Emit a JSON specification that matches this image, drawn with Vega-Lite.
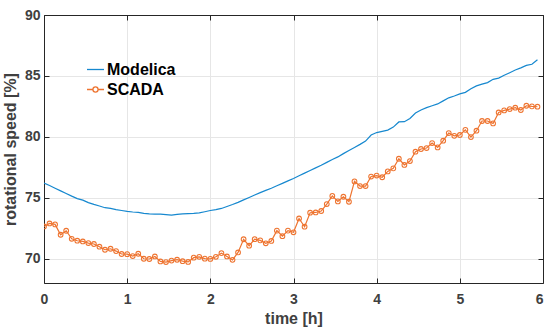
{
  "$schema": "https://vega.github.io/schema/vega-lite/v6.json",
  "width": 499,
  "height": 268,
  "autosize": {"type": "none"},
  "padding": {"left": 44, "top": 15, "right": 1, "bottom": 46},
  "background": "white",
  "config": {
    "view": {"stroke": null},
    "font": "Liberation Sans",
    "axis": {
      "labelFont": "Liberation Sans",
      "labelFontWeight": "bold",
      "labelFontSize": 14,
      "labelColor": "#404040",
      "labelFlush": false,
      "titleFont": "Liberation Sans",
      "titleFontWeight": "bold",
      "titleFontSize": 16,
      "titleColor": "#404040",
      "domainColor": "#262626",
      "domainWidth": 1,
      "tickColor": "#262626",
      "tickSize": -5,
      "gridColor": "#E6E6E6",
      "gridWidth": 1
    }
  },
  "data": {
    "values": [
      {"time": 0, "Modelica": 76.21, "SCADA": 72.64},
      {"time": 0.0667, "Modelica": 76.0, "SCADA": 72.89},
      {"time": 0.1333, "Modelica": 75.78, "SCADA": 72.81},
      {"time": 0.2, "Modelica": 75.56, "SCADA": 71.96},
      {"time": 0.2667, "Modelica": 75.35, "SCADA": 72.29},
      {"time": 0.3333, "Modelica": 75.13, "SCADA": 71.63},
      {"time": 0.4, "Modelica": 74.93, "SCADA": 71.47},
      {"time": 0.4667, "Modelica": 74.8, "SCADA": 71.41},
      {"time": 0.5333, "Modelica": 74.6, "SCADA": 71.28},
      {"time": 0.6, "Modelica": 74.45, "SCADA": 71.2},
      {"time": 0.6667, "Modelica": 74.32, "SCADA": 70.98},
      {"time": 0.7333, "Modelica": 74.18, "SCADA": 70.73},
      {"time": 0.8, "Modelica": 74.13, "SCADA": 70.81},
      {"time": 0.8667, "Modelica": 74.03, "SCADA": 70.62},
      {"time": 0.9333, "Modelica": 73.95, "SCADA": 70.38},
      {"time": 1, "Modelica": 73.88, "SCADA": 70.37},
      {"time": 1.0667, "Modelica": 73.83, "SCADA": 70.21},
      {"time": 1.1333, "Modelica": 73.8, "SCADA": 70.4},
      {"time": 1.2, "Modelica": 73.72, "SCADA": 69.99},
      {"time": 1.2667, "Modelica": 73.68, "SCADA": 69.97},
      {"time": 1.3333, "Modelica": 73.66, "SCADA": 70.18},
      {"time": 1.4, "Modelica": 73.65, "SCADA": 69.77},
      {"time": 1.4667, "Modelica": 73.62, "SCADA": 69.72},
      {"time": 1.5333, "Modelica": 73.58, "SCADA": 69.84},
      {"time": 1.6, "Modelica": 73.64, "SCADA": 69.91},
      {"time": 1.6667, "Modelica": 73.68, "SCADA": 69.79},
      {"time": 1.7333, "Modelica": 73.7, "SCADA": 69.73},
      {"time": 1.8, "Modelica": 73.72, "SCADA": 70.08},
      {"time": 1.8667, "Modelica": 73.76, "SCADA": 70.15},
      {"time": 1.9333, "Modelica": 73.85, "SCADA": 70.0},
      {"time": 2, "Modelica": 73.95, "SCADA": 69.98},
      {"time": 2.0667, "Modelica": 74.02, "SCADA": 70.15},
      {"time": 2.1333, "Modelica": 74.12, "SCADA": 70.45},
      {"time": 2.2, "Modelica": 74.28, "SCADA": 70.18},
      {"time": 2.2667, "Modelica": 74.44, "SCADA": 69.9},
      {"time": 2.3333, "Modelica": 74.62, "SCADA": 70.51},
      {"time": 2.4, "Modelica": 74.82, "SCADA": 71.59},
      {"time": 2.4667, "Modelica": 75.02, "SCADA": 71.06},
      {"time": 2.5333, "Modelica": 75.22, "SCADA": 71.6},
      {"time": 2.6, "Modelica": 75.42, "SCADA": 71.5},
      {"time": 2.6667, "Modelica": 75.6, "SCADA": 71.26},
      {"time": 2.7333, "Modelica": 75.78, "SCADA": 71.45},
      {"time": 2.8, "Modelica": 75.98, "SCADA": 72.3},
      {"time": 2.8667, "Modelica": 76.18, "SCADA": 71.84},
      {"time": 2.9333, "Modelica": 76.38, "SCADA": 72.3},
      {"time": 3, "Modelica": 76.58, "SCADA": 72.16},
      {"time": 3.0667, "Modelica": 76.8, "SCADA": 73.3},
      {"time": 3.1333, "Modelica": 77.02, "SCADA": 72.62},
      {"time": 3.2, "Modelica": 77.24, "SCADA": 73.77},
      {"time": 3.2667, "Modelica": 77.45, "SCADA": 73.79},
      {"time": 3.3333, "Modelica": 77.66, "SCADA": 73.91},
      {"time": 3.4, "Modelica": 77.9, "SCADA": 74.48},
      {"time": 3.4667, "Modelica": 78.14, "SCADA": 75.15},
      {"time": 3.5333, "Modelica": 78.35, "SCADA": 74.7},
      {"time": 3.6, "Modelica": 78.62, "SCADA": 75.08},
      {"time": 3.6667, "Modelica": 78.88, "SCADA": 74.67},
      {"time": 3.7333, "Modelica": 79.13, "SCADA": 76.34},
      {"time": 3.8, "Modelica": 79.38, "SCADA": 75.96},
      {"time": 3.8667, "Modelica": 79.65, "SCADA": 75.96},
      {"time": 3.9333, "Modelica": 80.15, "SCADA": 76.74},
      {"time": 4, "Modelica": 80.35, "SCADA": 76.82},
      {"time": 4.0667, "Modelica": 80.45, "SCADA": 76.68},
      {"time": 4.1333, "Modelica": 80.55, "SCADA": 77.16},
      {"time": 4.2, "Modelica": 80.8, "SCADA": 77.41},
      {"time": 4.2667, "Modelica": 81.22, "SCADA": 78.2},
      {"time": 4.3333, "Modelica": 81.24, "SCADA": 77.69},
      {"time": 4.4, "Modelica": 81.5, "SCADA": 78.01},
      {"time": 4.4667, "Modelica": 81.95, "SCADA": 78.78},
      {"time": 4.5333, "Modelica": 82.2, "SCADA": 79.0},
      {"time": 4.6, "Modelica": 82.4, "SCADA": 79.08},
      {"time": 4.6667, "Modelica": 82.55, "SCADA": 79.49},
      {"time": 4.7333, "Modelica": 82.7, "SCADA": 79.13},
      {"time": 4.8, "Modelica": 82.95, "SCADA": 79.68},
      {"time": 4.8667, "Modelica": 83.2, "SCADA": 80.31},
      {"time": 4.9333, "Modelica": 83.35, "SCADA": 80.08},
      {"time": 5, "Modelica": 83.52, "SCADA": 80.15},
      {"time": 5.0667, "Modelica": 83.65, "SCADA": 80.57},
      {"time": 5.1333, "Modelica": 83.95, "SCADA": 79.98},
      {"time": 5.2, "Modelica": 84.18, "SCADA": 80.5},
      {"time": 5.2667, "Modelica": 84.32, "SCADA": 81.3},
      {"time": 5.3333, "Modelica": 84.45, "SCADA": 81.3},
      {"time": 5.4, "Modelica": 84.72, "SCADA": 81.1},
      {"time": 5.4667, "Modelica": 84.82, "SCADA": 82.0},
      {"time": 5.5333, "Modelica": 85.05, "SCADA": 82.17},
      {"time": 5.6, "Modelica": 85.26, "SCADA": 82.28},
      {"time": 5.6667, "Modelica": 85.48, "SCADA": 82.39},
      {"time": 5.7333, "Modelica": 85.66, "SCADA": 82.2},
      {"time": 5.8, "Modelica": 85.86, "SCADA": 82.55},
      {"time": 5.8667, "Modelica": 85.96, "SCADA": 82.5},
      {"time": 5.9333, "Modelica": 86.33, "SCADA": 82.47}
    ]
  },
  "transform": [
    {"fold": ["Modelica", "SCADA"], "as": ["series", "value"]}
  ],
  "resolve": {"axis": {"x": "independent", "y": "independent"}},
  "layer": [
    {
      "mark": {"type": "line", "strokeWidth": 1.2, "clip": true},
      "encoding": {
        "x": {
          "field": "time", "type": "quantitative",
          "scale": {"domain": [0, 6], "nice": false, "zero": false},
          "axis": {"values": [0, 1, 2, 3, 4, 5, 6], "format": "d", "title": "time [h]", "labelPadding": 14, "titlePadding": 4, "grid": true, "labelAlign": {"expr": "datum.value === 6 ? 'right' : 'center'"}}
        },
        "y": {
          "field": "value", "type": "quantitative",
          "scale": {"domain": [68, 90], "nice": false, "zero": false},
          "axis": {"values": [70, 75, 80, 85, 90], "title": "rotational speed [%]", "labelPadding": 9, "titlePadding": 6, "grid": true}
        },
        "color": {
          "field": "series", "type": "nominal",
          "scale": {"domain": ["Modelica", "SCADA"], "range": ["#1688CF", "#EE7430"]},
          "legend": {
            "title": null,
            "orient": "none",
            "legendX": 42,
            "legendY": 45,
            "padding": 0,
            "rowPadding": 2,
            "symbolSize": 289,
            "symbolStrokeWidth": 1.3,
            "symbolFillColor": "transparent",
            "labelOffset": 2,
            "labelFont": "Liberation Sans",
            "labelFontWeight": "bold",
            "labelFontSize": 16,
            "labelColor": "#000000",
            "encode": {
              "symbols": {
                "update": {
                  "shape": {"signal": "datum.value === 'SCADA' ? 'M-1,0H-0.3M0.3,0H1M0.3,0A0.3,0.3 0 1 1 -0.3,0A0.3,0.3 0 1 1 0.3,0' : 'M-1,0H1'"},
                  "fill": {"value": "transparent"}
                }
              }
            }
          }
        }
      }
    },
    {
      "transform": [{"filter": "datum.series === 'SCADA'"}],
      "mark": {"type": "point", "filled": false, "size": 22, "strokeWidth": 1.1, "opacity": 1, "clip": true},
      "encoding": {
        "x": {
          "field": "time", "type": "quantitative",
          "axis": {"orient": "top", "values": [0, 1, 2, 3, 4, 5, 6], "labels": false, "title": null, "grid": false}
        },
        "y": {
          "field": "value", "type": "quantitative",
          "axis": {"orient": "right", "values": [70, 75, 80, 85, 90], "labels": false, "title": null, "grid": false}
        },
        "color": {"field": "series", "type": "nominal"}
      }
    }
  ]
}
